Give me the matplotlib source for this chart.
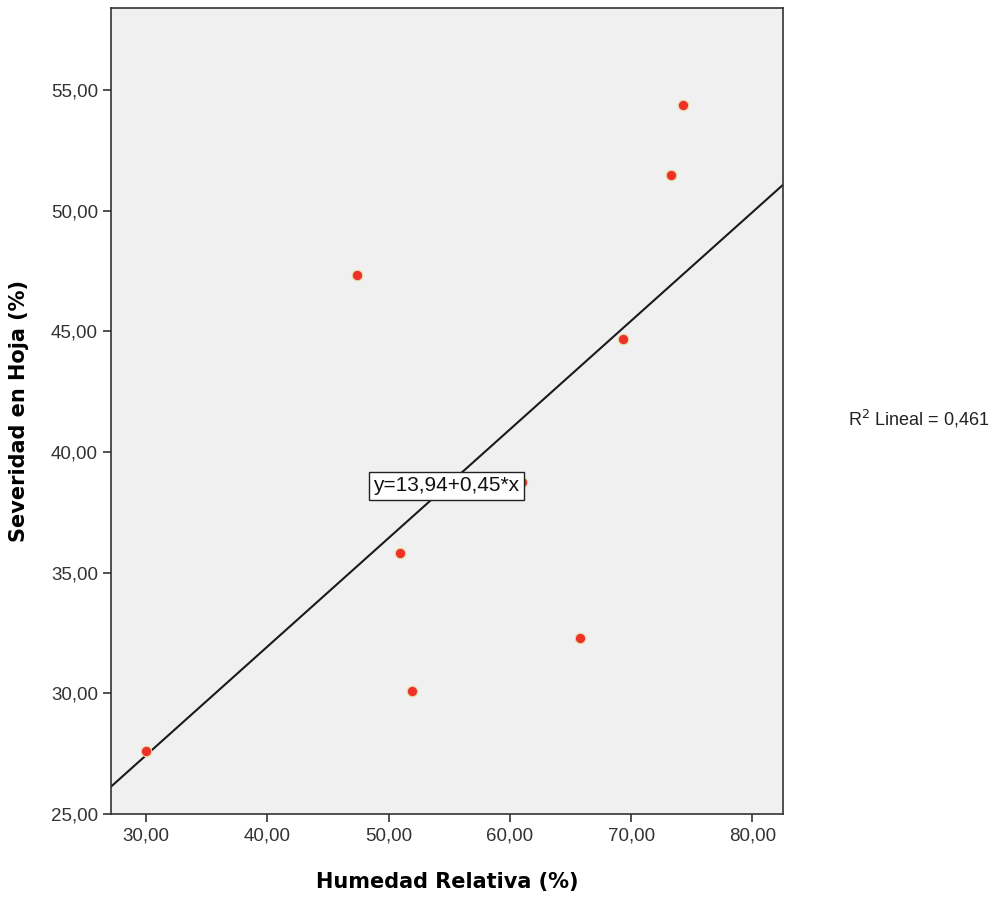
import matplotlib
matplotlib.use("Agg")
import matplotlib.pyplot as plt
from matplotlib.ticker import FuncFormatter
import numpy as np

# datos
humedad = [30.0, 47.4, 50.9, 51.9, 61.0, 65.8, 69.3, 73.3, 74.3]
severidad = [27.6, 47.35, 35.8, 30.08, 38.76, 32.3, 44.67, 51.5, 54.4]
intercepto = 13.94
pendiente = 0.45
r2 = "0,461"
xticks = [30, 40, 50, 60, 70, 80]
yticks = [25, 30, 35, 40, 45, 50, 55]

plt.rcParams['font.family'] = ['Liberation Sans', 'DejaVu Sans']

fig = plt.figure(figsize=(9.92, 9.01), dpi=100)
ax = fig.add_axes([0.112, 0.0966, 0.677, 0.8944])
ax.set_facecolor("#f0f0f0")

xmin, xmax = 27.1, 82.5
ymin, ymax = 25.0, 58.4
ax.set_xlim(xmin, xmax)
ax.set_ylim(ymin, ymax)

xs = np.array([xmin, xmax])
ax.plot(xs, intercepto + pendiente * xs, color="#1a1a1a", lw=1.5, zorder=2)

ax.plot(humedad, severidad, "o", ms=7.5, color="#ee3128",
        markeredgecolor="#e8d9a0", markeredgewidth=0.8, zorder=3)

ax.text(0.499, 0.407, "y=13,94+0,45*x", transform=ax.transAxes,
        fontsize=15, ha="center", va="center", zorder=4, color="#111111",
        bbox=dict(boxstyle="square,pad=0.22", fc="white", ec="#222222", lw=1))

fmt = FuncFormatter(lambda v, p: ("%.2f" % v).replace(".", ","))
ax.set_xticks(xticks)
ax.set_yticks(yticks)
ax.xaxis.set_major_formatter(fmt)
ax.yaxis.set_major_formatter(fmt)
ax.tick_params(labelsize=13.5, colors="#333333", length=6, width=1.2, direction="out")
ax.tick_params(labelcolor="#333333")
for s in ax.spines.values():
    s.set_color("#333333")
    s.set_linewidth(1.2)

ax.set_xlabel("Humedad Relativa (%)", fontsize=15, fontweight="bold", labelpad=20,
              family="DejaVu Sans")
ax.set_ylabel("Severidad en Hoja (%)", fontsize=15, fontweight="bold", labelpad=16,
              family="DejaVu Sans")

fig.text(0.855, 0.5355, "R$^2$ Lineal = " + r2, fontsize=13, color="#222222",
         ha="left", va="center")

fig.savefig("out.png", dpi=100)
